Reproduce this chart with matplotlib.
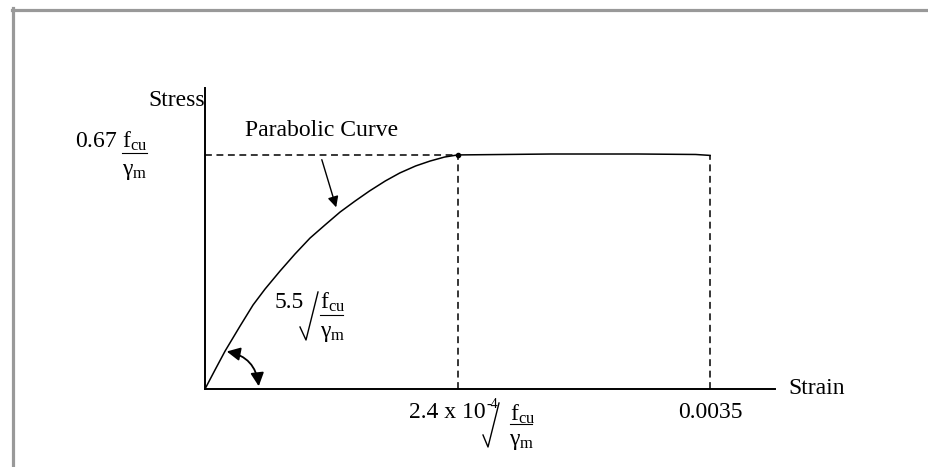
import matplotlib
matplotlib.use("Agg")
import matplotlib.pyplot as plt
from matplotlib.lines import Line2D
from matplotlib.patches import FancyArrowPatch

plt.rcParams['font.family'] = ['Liberation Serif', 'DejaVu Serif']
plt.rcParams['mathtext.fontset'] = 'custom'
plt.rcParams['mathtext.rm'] = 'Liberation Serif'
plt.rcParams['mathtext.it'] = 'Liberation Serif:italic'

# values (stress normalised to the peak 0.67 fcu/gm)
strain_curve = [0, 0.000069, 0.000139, 0.000243, 0.000333, 0.000416,
                0.00052, 0.000624, 0.000728, 0.000832, 0.000936, 0.00104,
                0.00114, 0.00125, 0.00135, 0.00146, 0.00156, 0.00166, 0.00175]
stress_curve = [0, 0.081, 0.162, 0.269, 0.359, 0.427,
                0.504, 0.577, 0.645, 0.701, 0.756, 0.803,
                0.846, 0.889, 0.923, 0.953, 0.974, 0.991, 1.0]
strain_plateau = [0.00175, 0.0024, 0.0030, 0.0034, 0.0035]
stress_plateau = [1.0, 1.004, 1.004, 1.002, 0.998]
eps_peak = 0.00175
eps_ult = 0.0035
peak = 1.0

W, H = 929, 467
fig = plt.figure(figsize=(W / 100, H / 100), dpi=100)


def px(x, y):
    return x / W, 1 - y / H


def seg(xs, ys, lw=0.8):
    fig.add_artist(Line2D([x / W for x in xs], [1 - y / H for y in ys],
                          color='black', lw=lw))


ax = fig.add_axes([205 / W, 78 / H, 570 / W, 301 / H])
ax.set_xlim(0, 0.00395)
ax.set_ylim(0, 1.286)
for s in ['top', 'right']:
    ax.spines[s].set_visible(False)
for s in ['left', 'bottom']:
    ax.spines[s].set_linewidth(1.4)
ax.set_xticks([])
ax.set_yticks([])
ax.patch.set_alpha(0)

ax.plot(strain_curve, stress_curve, color='black', lw=1.1)
ax.plot(strain_plateau, stress_plateau, color='black', lw=1.1)
ax.plot([eps_peak], [peak], 'o', color='black', ms=3)
dash = (0, (4.5, 3))
ax.plot([0, eps_peak], [peak, peak], color='black', lw=1.1, linestyle=dash)
ax.plot([eps_peak, eps_peak], [0, peak], color='black', lw=1.1, linestyle=dash)
ax.plot([eps_ult, eps_ult], [0, stress_plateau[-1]], color='black', lw=1.1, linestyle=dash)

# frame of the original figure
fig.add_artist(Line2D([13.5 / W, 13.5 / W], [0, 1 - 8 / H], color='#999999', lw=2.3))
fig.add_artist(Line2D([12 / W, 1], [1 - 9.5 / H, 1 - 9.5 / H], color='#999999', lw=2.3))

fs = 17
fig.text(*px(148, 100), 'Stress', fontsize=fs, va='center', ha='left')
fig.text(*px(788, 389), 'Strain', fontsize=fs, va='center', ha='left')
fig.text(*px(245, 130), 'Parabolic Curve', fontsize=fs, va='center', ha='left')
fig.text(*px(678, 413), '0.0035', fontsize=fs, va='center', ha='left')

# 0.67 fcu / gm
fig.text(*px(75, 141), r'0.67 $\mathrm{f_{cu}}$', fontsize=fs, va='center', ha='left')
seg([122, 147], [153, 153])
fig.text(*px(122, 172), r'$\mathrm{\gamma_m}$', fontsize=fs, va='center', ha='left')

# 5.5 sqrt(fcu/gm)
fig.text(*px(275, 303), '5.5', fontsize=fs, va='center', ha='left')
seg([300, 306, 318], [327, 340, 292], lw=1.0)
fig.text(*px(320, 302), r'$\mathrm{f_{cu}}$', fontsize=fs, va='center', ha='left')
seg([320, 343], [315, 315])
fig.text(*px(320, 334), r'$\mathrm{\gamma_m}$', fontsize=fs, va='center', ha='left')

# 2.4 x 10^-4 sqrt(fcu/gm)
fig.text(*px(409, 412), '2.4 x 10', fontsize=fs, va='center', ha='left')
fig.text(*px(487, 404), '-4', fontsize=10, va='center', ha='left')
seg([483, 488, 499], [435, 447, 403], lw=1.0)
fig.text(*px(510, 414), r'$\mathrm{f_{cu}}$', fontsize=fs, va='center', ha='left')
seg([510, 532], [424, 424])
fig.text(*px(509, 442), r'$\mathrm{\gamma_m}$', fontsize=fs, va='center', ha='left')

# arrows
fig.add_artist(FancyArrowPatch(px(321, 157), px(337, 210), arrowstyle='-|>',
                               mutation_scale=16, color='black', lw=1.0))
fig.add_artist(FancyArrowPatch(px(224, 351), px(259, 389), arrowstyle='<|-|>',
                               connectionstyle='arc3,rad=-0.4',
                               mutation_scale=20, color='black', lw=1.3))

fig.savefig('out.png', dpi=100)
